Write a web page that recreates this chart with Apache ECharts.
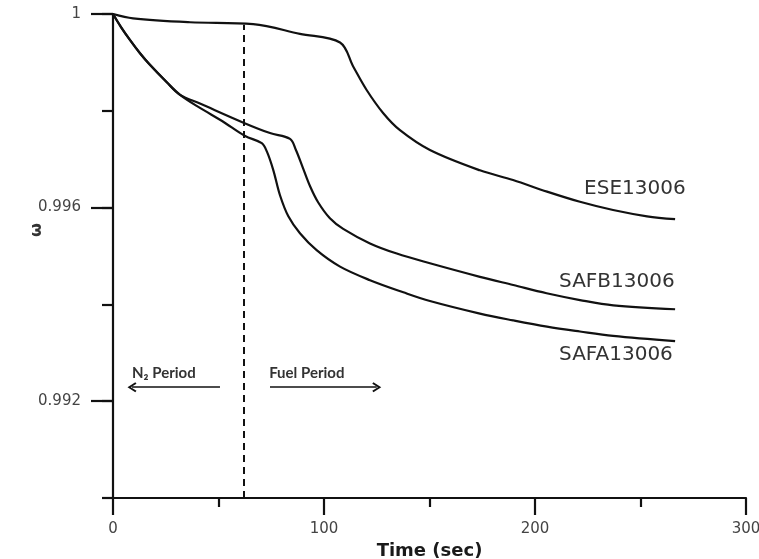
<!DOCTYPE html>
<html>
<head>
<meta charset="utf-8">
<script src="https://cdn.jsdelivr.net/npm/echarts@6/dist/echarts.min.js"></script>
<style>
  html, body { margin: 0; padding: 0; background: #fff; }
  #chart { width: 759px; height: 559px; }
</style>
</head>
<body>
<div id="chart"></div>
<script>
// Dimensionless mass ratio (omega) against time for three samples
const seriesNames = ['ESE13006', 'SAFB13006', 'SAFA13006'];

const eseTime  = [0, 9.5, 36.5, 66.4, 88.6, 107.6, 113.9, 120.2, 128.1, 136.0, 150.2, 173.9, 189.6, 205.7, 221.3, 237.0, 253.1, 266.4];
const eseOmega = [1, 0.99991, 0.99983, 0.99979, 0.99959, 0.99941, 0.99891, 0.99843, 0.99795, 0.99760, 0.99719, 0.99677, 0.99657, 0.99633, 0.99612, 0.99595, 0.99582, 0.99576];

const safbTime  = [0, 3.8, 8.1, 12.8, 17.5, 25.5, 31.8, 41.2, 62.1, 74.4, 83.9, 86.7, 90.0, 93.4, 97.2, 102.8, 109.1, 121.8, 134.5, 150.2, 173.9, 189.7, 205.5, 221.3, 237.1, 266.4];
const safbOmega = [1, 0.99973, 0.99946, 0.99919, 0.99895, 0.99859, 0.99833, 0.99815, 0.99775, 0.99754, 0.99742, 0.99719, 0.99682, 0.99644, 0.99611, 0.99578, 0.99556, 0.99526, 0.99505, 0.99485, 0.99457, 0.99440, 0.99423, 0.99409, 0.99398, 0.99390];

const safaTime  = [0, 3.8, 8.1, 12.8, 17.5, 25.5, 31.8, 41.2, 51.7, 62.6, 70.5, 73.0, 76.0, 79.1, 83.1, 88.6, 96.5, 107.6, 121.8, 137.6, 150.2, 173.9, 189.6, 205.7, 221.3, 237.0, 266.4];
const safaOmega = [1, 0.99973, 0.99946, 0.99919, 0.99895, 0.99859, 0.99833, 0.99806, 0.99779, 0.99748, 0.99733, 0.99715, 0.99677, 0.99626, 0.99582, 0.99547, 0.99512, 0.99478, 0.99450, 0.99425, 0.99407, 0.99381, 0.99367, 0.99354, 0.99344, 0.99335, 0.99324];

// Axis ranges and labelled ticks
const xRange = [0, 300];
const yRange = [0.990, 1];
const yLabelValues = [0.992, 0.996, 1];

// N2 -> fuel switch time and the period annotations
const switchTime = 62;
const switchTop = 0.99978;
const periodNames = ['N\u2082 Period', 'Fuel Period'];
const periodTextAt = [[9, 0.99258], [74, 0.99258]];
const periodArrows = [
  [[50.7, 0.99229], [9, 0.99229]],
  [[74.4, 0.99229], [125, 0.99229]]
];

const zip = (xs, ys) => xs.map((x, i) => [x, ys[i]]);
const ink = '#111';
const labelFont = 'DejaVu Sans';
const chevron = 'path://M5,0 L10,8 L8.5,9.2 L5,3.4 L1.5,9.2 L0,8 Z';

const endLabelOffsets = [[-91, -30], [-116, -27], [-116, 14]];
const curveData = [zip(eseTime, eseOmega), zip(safbTime, safbOmega), zip(safaTime, safaOmega)];

const curveSeries = seriesNames.map((name, i) => ({
  name: name,
  type: 'line',
  data: curveData[i],
  showSymbol: false,
  smooth: 0.35,
  lineStyle: { color: ink, width: 2.2 },
  endLabel: {
    show: true,
    formatter: name,
    distance: 0,
    offset: endLabelOffsets[i],
    fontFamily: labelFont,
    fontSize: 20,
    color: '#333'
  },
  z: 3
}));

const annotationSeries = {
  type: 'line',
  data: [],
  silent: true,
  markLine: {
    silent: true,
    animation: false,
    symbol: ['none', chevron],
    symbolSize: [10, 9],
    label: { show: false },
    lineStyle: { color: ink, width: 1.6, type: 'solid' },
    data: periodArrows.map(a => [{ coord: a[0] }, { coord: a[1] }])
  },
  markPoint: {
    silent: true,
    animation: false,
    symbol: 'circle',
    symbolSize: 0,
    label: {
      show: true,
      position: 'right',
      distance: 0,
      formatter: '{b}',
      fontFamily: 'Lato, DejaVu Sans',
      fontWeight: 'bold',
      fontSize: 15,
      color: '#333'
    },
    data: periodNames.map((n, i) => ({ name: n, coord: periodTextAt[i] }))
  }
};

const switchSeries = {
  type: 'line',
  data: [],
  silent: true,
  markLine: {
    silent: true,
    animation: false,
    symbol: 'none',
    label: { show: false },
    lineStyle: { color: ink, width: 2, type: [7, 5] },
    data: [[{ coord: [switchTime, yRange[0]] }, { coord: [switchTime, switchTop] }]]
  }
};

const chart = echarts.init(document.getElementById('chart'));
chart.setOption({
  animation: false,
  backgroundColor: '#fff',
  grid: { left: 113, right: 13, top: 14, bottom: 61, containLabel: false, outerBoundsMode: 'none' },
  xAxis: {
    type: 'value',
    min: xRange[0],
    max: xRange[1],
    interval: 100,
    name: 'Time (sec)',
    nameLocation: 'middle',
    nameGap: 40,
    nameTextStyle: { fontFamily: labelFont, fontWeight: 'bold', fontSize: 18, color: '#1a1a1a' },
    axisLine: { show: true, onZero: false, lineStyle: { color: ink, width: 2.2 } },
    axisTick: { show: true, length: 17, lineStyle: { color: ink, width: 2.2 } },
    minorTick: { show: true, splitNumber: 2, length: 9, lineStyle: { color: ink, width: 2.2 } },
    axisLabel: { margin: 24, fontFamily: labelFont, fontSize: 15, color: '#444' },
    splitLine: { show: false },
    minorSplitLine: { show: false }
  },
  yAxis: [
    {
      type: 'value',
      position: 'left',
      min: yRange[0],
      max: yRange[1],
      interval: 0.002,
      axisLine: { show: true, onZero: false, lineStyle: { color: ink, width: 2.2 } },
      axisTick: { show: true, length: 11, lineStyle: { color: ink, width: 2.2 } },
      axisLabel: { show: false },
      splitLine: { show: false }
    },
    {
      type: 'value',
      position: 'left',
      offset: 0,
      min: yRange[0],
      max: yRange[1],
      interval: 0.002,
      axisLine: { show: false },
      axisTick: { show: true, customValues: yLabelValues, length: 22, lineStyle: { color: ink, width: 2.2 } },
      axisLabel: {
        show: true,
        customValues: yLabelValues,
        margin: 32,
        fontFamily: labelFont,
        fontSize: 15,
        color: '#444',
        formatter: v => (Math.abs(v - 1) < 1e-9 ? '1' : v.toFixed(3))
      },
      splitLine: { show: false }
    }
  ],
  graphic: [{
    type: 'text',
    x: 37,
    y: 230,
    rotation: Math.PI / 2,
    style: {
      text: '\u03C9',
      font: 'bold 16px "DejaVu Sans"',
      fill: '#333',
      align: 'center',
      verticalAlign: 'middle'
    }
  }],
  series: curveSeries.concat([switchSeries, annotationSeries])
});
</script>
</body>
</html>
